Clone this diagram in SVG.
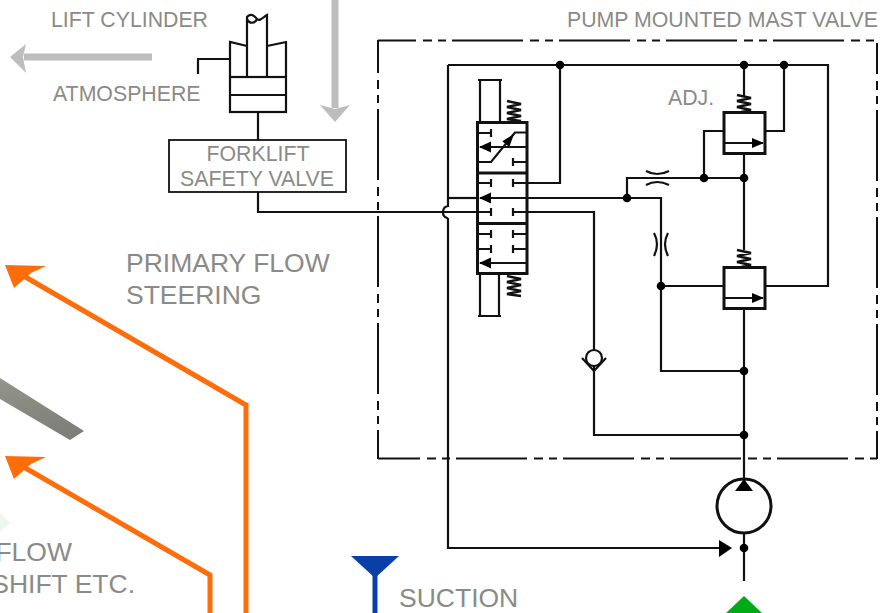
<svg xmlns="http://www.w3.org/2000/svg" width="882" height="613" viewBox="0 0 882 613">
<style>
.t{font-family:"Liberation Sans",Arial,sans-serif;fill:#8a8b86}
.s{font-size:21.300px}.l{font-size:26.500px}
.w{fill:none;stroke:#111;stroke-width:2.200}
.b{fill:none;stroke:#111;stroke-width:3}
.d{fill:#000}
.f{fill:#000;stroke:none}
.or{fill:none;stroke:#ff6d0a;stroke-width:5}
.orf{fill:#ff6d0a}
.bd{fill:none;stroke:#111;stroke-width:2;stroke-dasharray:71 7 9 6 8 6}
</style>
<defs>
<linearGradient id="blade" x1="0" y1="0" x2="0.3" y2="1"><stop offset="0" stop-color="#93958d"/><stop offset="1" stop-color="#7d7f78"/></linearGradient>
<path id="spring" d="M-7 0L7 3L-7 6L7 9L-7 12L7 15L-7 18L7 20" fill="none" stroke="#111" stroke-width="2.500"/>
<path id="lh" d="M0 0L12 -5.500V5.500Z" fill="#000"/>
</defs>

<g id="background-shapes">
<polygon points="0,378 84,431 70,440 0,399" fill="url(#blade)"/>
<polygon points="0,513 10,523 0,532" fill="#eef8ea"/>
</g>

<g id="flow-arrows">
<path class="or" d="M246 613V405L22 275"/>
<polygon class="orf" points="5,265 46,266 31,273 14,288"/>
<path class="or" d="M210 613V575L22 466"/>
<polygon class="orf" points="5,456 46,457 31,464 14,479"/>
<path d="M152 57H24" fill="none" stroke="#bdbdbd" stroke-width="7"/>
<polygon points="10,57 26,44 23,57 26,73" fill="#bdbdbd"/>
<path d="M335 0V108" fill="none" stroke="#bdbdbd" stroke-width="7"/>
<polygon points="335,122 320,105 335,109 350,105" fill="#bdbdbd"/>
<polygon points="351,556 399,556 375,578" fill="#0a3fa8"/>
<path d="M375 570V613" fill="none" stroke="#0a3fa8" stroke-width="5"/>
<polygon points="744,596 762,613 726,613" fill="#00ab16"/>
</g>

<g id="mast-valve-boundary">
<path class="bd" d="M378 40.500H875" stroke-dashoffset="33" style="stroke-dashoffset:33"/>
<path class="bd" d="M378 458.500H877" style="stroke-dashoffset:29"/>
<path class="bd" d="M378 40V459" style="stroke-dashoffset:38"/>
<path class="bd" d="M877 43V459" style="stroke-dashoffset:40"/>
</g>

<g id="connectors">
<path class="w" d="M744 371H661V198H478"/>
<path class="w" d="M627 198V178H744"/>
<path class="w" d="M704 178V131H723"/>
<path class="w" d="M477 198H448"/>
<path class="w" d="M448 65H828V286H765"/>
<path class="w" d="M448 65V206C442 207 441 216 447 218L448 219V548H720"/>
<path class="w" d="M560 65V183H527"/>
<path class="w" d="M784 65V131H765"/>
<path class="w" d="M744 65V96"/>
<path class="w" d="M744 154V250"/>
<path class="w" d="M661 286H723"/>
<path class="w" d="M744 308V479"/>
<path class="w" d="M744 533V581"/>
<path class="w" d="M258 192V212H594V350"/>
<path class="w" d="M594 366V435H744"/>
<path class="w" d="M258 112V140"/>
<polygon class="f" points="732,548 719,540 719,557"/>
<g class="d">
<circle cx="560" cy="65" r="4.300"/><circle cx="744" cy="65" r="4.300"/><circle cx="784" cy="65" r="4.300"/>
<circle cx="704" cy="178" r="4.300"/><circle cx="744" cy="178" r="4.300"/><circle cx="627" cy="198" r="4.300"/>
<circle cx="661" cy="286" r="4.300"/><circle cx="744" cy="371" r="4.300"/><circle cx="744" cy="435" r="4.300"/><circle cx="744" cy="548" r="4.300"/>
</g>
</g>

<g id="lift-cylinder">
<path class="w" d="M230 77V42L247 46M286 77V42L267 46M247 77V17C250 13 254 15 257 19C260 22 263 17 267 15V77"/>
<path class="w" d="M247 19C249 24 255 24 257 19"/>
<rect x="230" y="77" width="56" height="35" fill="none" stroke="#111" stroke-width="2.200"/>
<path class="w" d="M230 95H286M230 59H198V74"/>
</g>

<g id="forklift-safety-valve">
<rect x="169" y="140" width="177" height="52" fill="#fff" stroke="#111" stroke-width="1.800"/>
<text class="t s" x="258" y="161" text-anchor="middle">FORKLIFT</text>
<text class="t s" x="257" y="186" text-anchor="middle">SAFETY VALVE</text>
</g>

<g id="directional-valve">
<path class="w" d="M480 122V80H500V122M478 80H502M480 274V316H499V274M478 316H501"/>
<use href="#spring" x="514" y="101"/>
<use href="#spring" x="514" y="276"/>
<rect x="477.500" y="122.500" width="49.500" height="151" fill="#fff" stroke="#111" stroke-width="3"/>
<path class="b" d="M477 173H527M477 223.500H527"/>
<path class="w" d="M477 133H491M491 129V137M477 162H491L513 135L515 132.500H527M513 158V166M513 162H527M477 183H491M491 179V187M513 179V187M513 183H527M477 212H491M491 208V216M513 208V216M513 212H527M477 234H491M491 230V238M513 230V238M513 234H527M477 249H491M491 245V253M513 245V253M513 249H527"/>
<path class="w" d="M480 147H527M480 198H527M480 263H527"/>
<use href="#lh" x="479" y="147"/>
<use href="#lh" x="479" y="198"/>
<use href="#lh" x="479" y="263"/>
<polygon class="f" points="514,134 509.300,147 502.300,141.200"/>
</g>

<g id="relief-valve-upper">
<use href="#spring" x="744" y="95"/>
<rect x="724" y="112.500" width="41" height="41" fill="#fff" stroke="#111" stroke-width="3"/>
<path class="w" d="M725 143H763"/>
<polygon class="f" points="764,143 752,138 752,148"/>
</g>

<g id="relief-valve-lower">
<use href="#spring" x="744" y="250"/>
<rect x="724" y="267.500" width="41" height="41" fill="#fff" stroke="#111" stroke-width="3"/>
<path class="w" d="M725 298H763"/>
<polygon class="f" points="764,298 752,293 752,303"/>
</g>

<g id="orifices">
<path class="w" d="M646 171Q657 177 669 171M646 185Q657 179 669 185"/>
<path class="w" d="M654 233Q660 244 654 256M668 233Q662 244 668 256"/>
</g>

<g id="check-valve">
<circle cx="594" cy="358" r="8" fill="#fff" stroke="#111" stroke-width="2.200"/>
<path class="w" d="M582 358L594 371L606 358"/>
</g>

<g id="pump">
<circle cx="744" cy="506" r="27" fill="none" stroke="#111" stroke-width="3"/>
<polygon class="f" points="744,479 735,491 753,491"/>
</g>

<g id="labels">
<text class="t s" x="51" y="27">LIFT CYLINDER</text>
<text class="t s" x="53" y="101">ATMOSPHERE</text>
<text class="t s" x="567" y="27">PUMP MOUNTED MAST VALVE</text>
<text class="t s" x="668" y="105">ADJ.</text>
<text class="t l" x="126" y="272">PRIMARY FLOW</text>
<text class="t l" x="126" y="304">STEERING</text>
<text class="t l" x="72" y="561" text-anchor="end">FLOW</text>
<text class="t l" x="135" y="593" text-anchor="end">SHIFT ETC.</text>
<text class="t l" x="399" y="607">SUCTION</text>
</g>
</svg>
